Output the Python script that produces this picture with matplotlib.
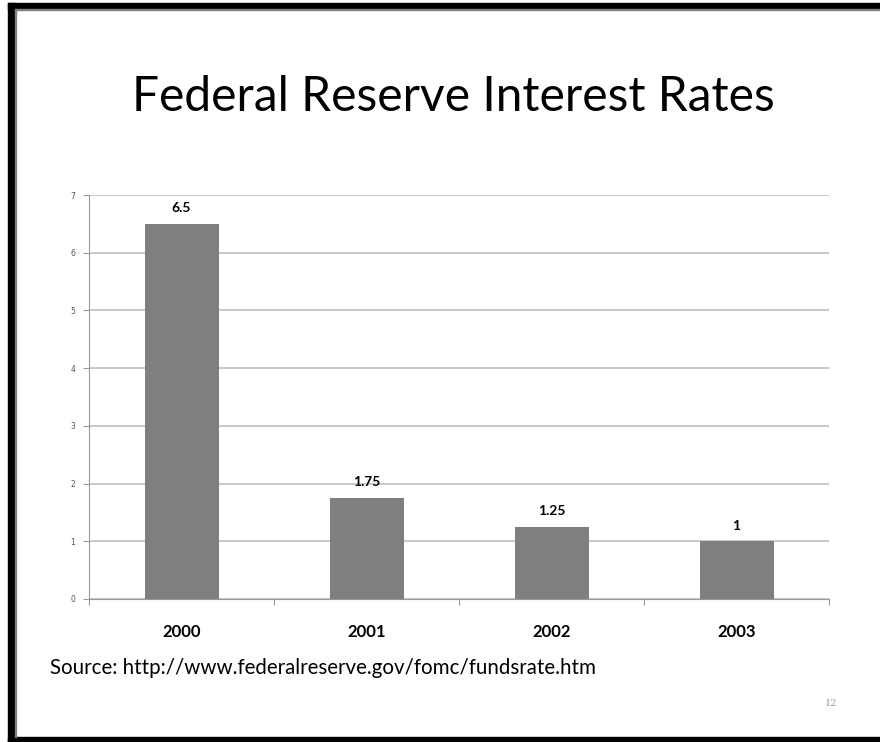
import matplotlib.pyplot as plt
from matplotlib.patches import Rectangle

# data
years = ['2000', '2001', '2002', '2003']
rates = [6.5, 1.75, 1.25, 1]
yticks = [0, 1, 2, 3, 4, 5, 6, 7]

W, H = 880, 742
fig = plt.figure(figsize=(8.8, 7.42), dpi=100)
fig.patch.set_facecolor('white')

# slide frame
def px_rect(x0, y0, x1, y1, color):
    fig.patches.append(Rectangle((x0 / W, 1 - y1 / H), (x1 - x0) / W, (y1 - y0) / H,
                                 transform=fig.transFigure, color=color, zorder=0))

px_rect(8, 3, W, 9, 'black')
px_rect(8, 3, 15, 742, 'black')
px_rect(8, 737, W, 742, 'black')
px_rect(15, 9, W, 10, '#808080')
px_rect(15, 9, 16, 737, '#808080')

fig.text(453 / W, 1 - 97 / H, 'Federal Reserve Interest Rates', ha='center', va='center',
         fontsize=34.5, family='Lato', color='black')

# plot area in pixels: x 89..829, y 195..599
ax = fig.add_axes([89 / W, 1 - 599 / H, (829 - 89) / W, (599 - 195) / H])
x = range(len(years))
ax.bar(x, rates, width=0.4, color='#7f7f7f', zorder=3)
for i, v in enumerate(rates):
    ax.annotate(f'{v:g}', (i, v), xytext=(0, 7), textcoords='offset points',
                ha='center', va='bottom', fontsize=10, fontweight='bold', family='Lato')

ax.set_xlim(-0.5, 3.5)
ax.set_ylim(0, 7)
ax.set_yticks(yticks)
ax.set_yticklabels([str(t) for t in yticks], fontsize=5.5, color='#555555')
ax.set_xticks([-0.5, 0.5, 1.5, 2.5, 3.5])
ax.set_xticklabels([])
ax.set_xticks(list(x), minor=True)
ax.set_xticklabels(years, minor=True, fontsize=12, fontweight='bold', family='Lato')
ax.tick_params(axis='x', which='minor', length=0, pad=18)
ax.tick_params(axis='x', which='major', length=4, color='#999999')
ax.tick_params(axis='y', length=4, color='#999999', pad=6)
ax.grid(axis='y', color='#c0c0c0', linewidth=1.2, zorder=0)
for s in ['top', 'right']:
    ax.spines[s].set_visible(False)
for s in ['left', 'bottom']:
    ax.spines[s].set_color('#999999')

fig.text(50 / W, 1 - 668 / H, 'Source: http://www.federalreserve.gov/fomc/fundsrate.htm',
         ha='left', va='center', fontsize=14.8, family='Lato')
fig.text(831 / W, 1 - 703 / H, '12', ha='center', va='center', fontsize=7,
         family='DejaVu Serif', color='#999999')

fig.savefig('out.png', dpi=100)
